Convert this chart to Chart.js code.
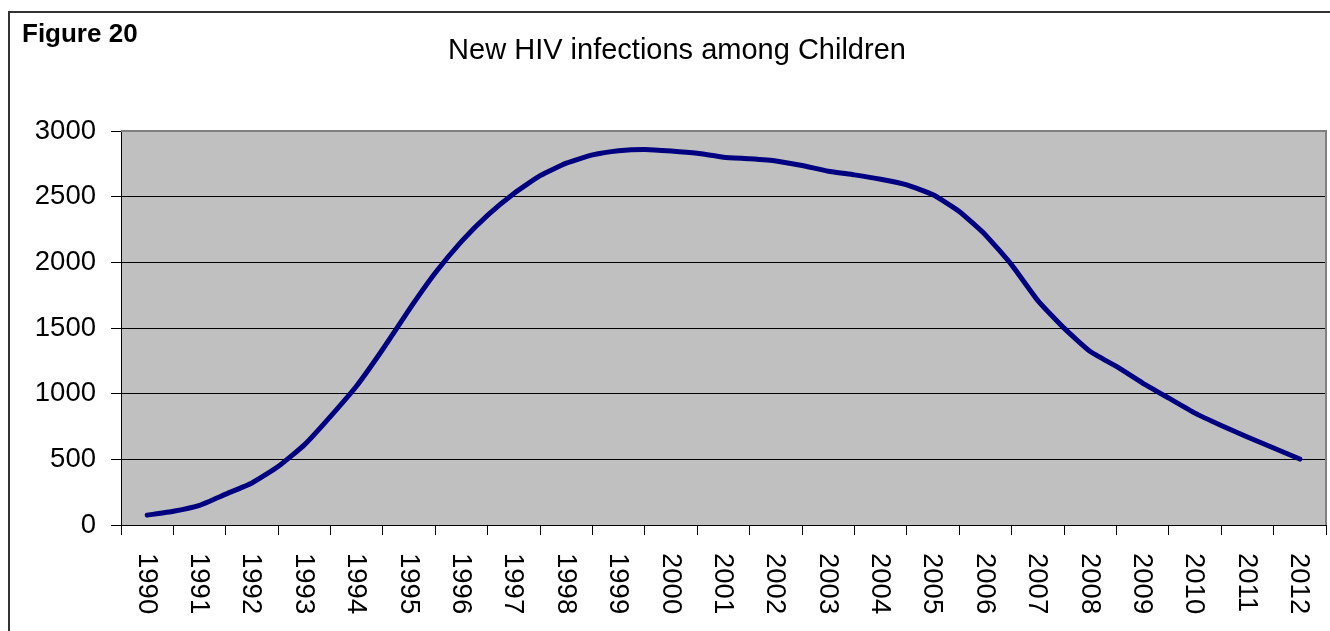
<!DOCTYPE html>
<html>
<head>
<meta charset="utf-8">
<title>New HIV infections among Children</title>
<script src="https://cdn.jsdelivr.net/npm/chart.js@4.4.1/dist/chart.umd.min.js"></script>
<style>
    html, body { margin: 0; padding: 0; background: #fff; overflow: hidden; }
    #chart { display: block; }
</style>
</head>
<body>
<canvas id="chart" width="1330" height="631"></canvas>
<script>
const years = [1990, 1991, 1992, 1993, 1994, 1995, 1996, 1997, 1998, 1999, 2000, 2001,
    2002, 2003, 2004, 2005, 2006, 2007, 2008, 2009, 2010, 2011, 2012];

// the line has a vertex every half year
const sampleYears = [1990, 1990.5, 1991, 1991.5, 1992, 1992.5, 1993, 1993.5, 1994, 1994.5,
    1995, 1995.5, 1996, 1996.5, 1997, 1997.5, 1998, 1998.5, 1999, 1999.5, 2000, 2000.5,
    2001, 2001.5, 2002, 2002.5, 2003, 2003.5, 2004, 2004.5, 2005, 2005.5, 2006, 2006.5,
    2007, 2007.5, 2008, 2008.5, 2009, 2009.5, 2010, 2010.5, 2011, 2011.5, 2012];

const newInfections = [75, 105, 150, 235, 320, 445, 610, 827, 1060, 1340,
    1640, 1920, 2160, 2360, 2525, 2660, 2755, 2818, 2850, 2860, 2848, 2830,
    2800, 2788, 2772, 2737, 2694, 2666, 2633, 2590, 2514, 2387, 2209, 1981,
    1709, 1499, 1321, 1207, 1081, 966, 852, 758, 670, 586, 502];

const yTicks = [0, 500, 1000, 1500, 2000, 2500, 3000];

const FONT = '"Liberation Sans", Arial, sans-serif';

const plotDecor = {
    id: 'plotDecor',
    beforeDraw(chart) {
        const { ctx, chartArea: a, width, height } = chart;
        ctx.save();
        // outer frame of the figure (runs off the right and bottom edges)
        ctx.strokeStyle = '#333';
        ctx.lineWidth = 2;
        ctx.beginPath();
        ctx.moveTo(9, height);
        ctx.lineTo(9, 12);
        ctx.lineTo(width, 12);
        ctx.stroke();
        ctx.fillStyle = '#c0c0c0';
        ctx.fillRect(a.left, a.top, a.right - a.left, a.bottom - a.top);
        ctx.restore();
    },
    beforeDatasetsDraw(chart) {
        const { ctx, chartArea: a } = chart;
        ctx.save();
        ctx.strokeStyle = '#808080';
        ctx.lineWidth = 2;
        ctx.beginPath();
        ctx.moveTo(a.left, a.top);
        ctx.lineTo(a.right, a.top);
        ctx.lineTo(a.right, a.bottom);
        ctx.stroke();
        ctx.restore();
    },
    afterDraw(chart) {
        const { ctx } = chart;
        const xs = chart.scales.x;
        ctx.save();
        ctx.fillStyle = '#000';
        ctx.textBaseline = 'alphabetic';
        ctx.textAlign = 'left';
        ctx.font = 'bold 26px ' + FONT;
        ctx.fillText('Figure 20', 22, 42);
        ctx.textAlign = 'center';
        ctx.font = '29px ' + FONT;
        ctx.fillText('New HIV infections among Children', 677, 59);

        // year labels, turned clockwise
        ctx.font = '27.5px ' + FONT;
        ctx.textAlign = 'left';
        ctx.textBaseline = 'middle';
        years.forEach(y => {
            ctx.save();
            ctx.translate(xs.getPixelForValue(y) - 1, 553);
            ctx.rotate(Math.PI / 2);
            ctx.fillText(String(y), 0, 0);
            ctx.restore();
        });
        ctx.restore();
    }
};

new Chart(document.getElementById('chart'), {
    type: 'line',
    data: {
        datasets: [{
            label: 'New HIV infections among Children',
            data: sampleYears.map((y, i) => ({ x: y, y: newInfections[i] })),
            borderColor: '#000080',
            borderWidth: 5,
            borderCapStyle: 'round',
            borderJoinStyle: 'round',
            pointRadius: 0,
            tension: 0.15,
            fill: false
        }]
    },
    options: {
        responsive: false,
        animation: false,
        events: [],
        layout: { padding: { top: 131, right: 4, left: 0, bottom: 0 } },
        plugins: { legend: { display: false }, tooltip: { enabled: false } },
        scales: {
            x: {
                type: 'linear',
                min: years[0] - 0.5,
                max: years[years.length - 1] + 0.5,
                afterBuildTicks: s => {
                    s.ticks = years.map(y => ({ value: y - 0.5 })).concat([{ value: years[years.length - 1] + 0.5 }]);
                },
                afterFit: s => { s.height = 106; },
                ticks: { display: false },
                grid: { drawOnChartArea: false, drawTicks: true, tickLength: 10, color: '#000', lineWidth: 1 },
                border: { display: true, color: '#000', width: 1 }
            },
            y: {
                min: 0,
                max: 3000,
                afterBuildTicks: s => { s.ticks = yTicks.map(v => ({ value: v })); },
                afterFit: s => { s.width = 121; },
                ticks: { color: '#000', font: { family: FONT, size: 27.5 }, padding: 15, callback: v => String(v) },
                grid: { color: '#000', lineWidth: 1, tickLength: 10, drawTicks: true },
                border: { display: true, color: '#000', width: 1 }
            }
        }
    },
    plugins: [plotDecor]
});
</script>
</body>
</html>
